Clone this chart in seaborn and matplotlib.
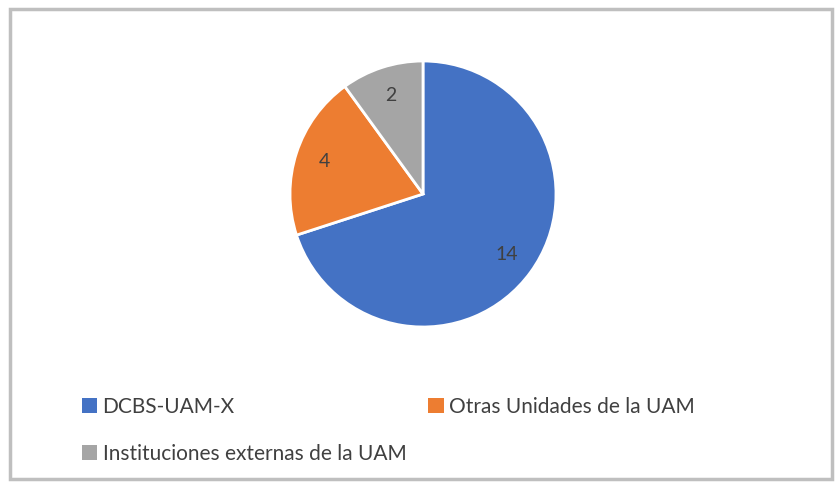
import matplotlib
matplotlib.use('Agg')
import matplotlib.pyplot as plt
import seaborn as sns
from matplotlib.patches import Patch, Rectangle

categories = ['DCBS-UAM-X', 'Otras Unidades de la UAM', 'Instituciones externas de la UAM']
values = [14, 4, 2]
colors = ['#4472C4', '#ED7D31', '#A5A5A5']

sns.set_theme(style='white')
plt.rcParams['font.family'] = ['Lato', 'DejaVu Sans']

fig = plt.figure(figsize=(8.35, 4.82), dpi=100)
fig.patch.set_facecolor('white')

# outer frame of the chart area
fig.add_artist(Rectangle((10 / 835, 3 / 482), 822 / 835, 470 / 482, transform=fig.transFigure,
                         fill=False, edgecolor='#BFBFBF', linewidth=2.5))

ax = fig.add_axes([(423 - 133) / 835, (482 - 194 - 133) / 482, 266 / 835, 266 / 482])
wedges, texts = ax.pie(values, labels=[str(v) for v in values], colors=colors,
                       startangle=90, counterclock=False, labeldistance=0.78,
                       wedgeprops=dict(edgecolor='white', linewidth=2),
                       textprops=dict(fontsize=14, color='#404040', ha='center', va='center'))
ax.set_xlim(-1.0, 1.0)
ax.set_ylim(-1.0, 1.0)
ax.set_aspect('equal')
for w in wedges:
    w.set_clip_on(False)

# legend: blue/orange on the first row, gray on the second
order = [0, 2, 1]
handles = [Patch(facecolor=colors[i], edgecolor='none') for i in order]
labels = [categories[i] for i in order]
fig.legend(handles, labels, ncol=2, loc='upper left', bbox_to_anchor=(63 / 835, 1 - 378 / 482),
           frameon=False, fontsize=15, handlelength=0.75, handleheight=0.75, handletextpad=0.25,
           columnspacing=1.05, labelspacing=1.3, labelcolor='#404040')

fig.savefig('out.png', dpi=100)
